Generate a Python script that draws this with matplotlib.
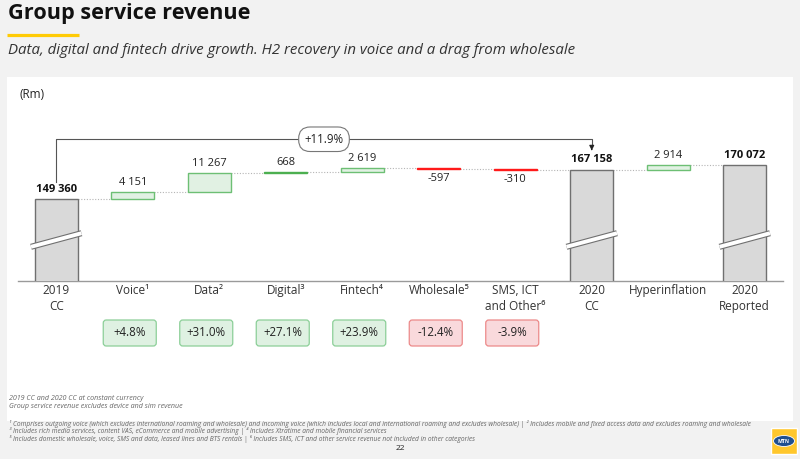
import matplotlib.pyplot as plt
from matplotlib.patches import FancyBboxPatch, Rectangle, Ellipse

plt.rcParams['font.family'] = ['Open Sans', 'DejaVu Sans']

# Data
categories = ['2019\nCC', 'Voice¹', 'Data²', 'Digital³', 'Fintech⁴', 'Wholesale⁵',
              'SMS, ICT\nand Other⁶', '2020\nCC', 'Hyperinflation', '2020\nReported']
kinds = ['total', 'delta', 'delta', 'delta', 'delta', 'delta', 'delta', 'total', 'delta', 'total']
values = [149360, 4151, 11267, 668, 2619, -597, -310, 167158, 2914, 170072]
growth_idx = [1, 2, 3, 4, 5, 6]
growth_labels = ['+4.8%', '+31.0%', '+27.1%', '+23.9%', '-12.4%', '-3.9%']
total_growth = '+11.9%'

notes_panel = ['2019 CC and 2020 CC at constant currency',
               'Group service revenue excludes device and sim revenue']
notes_foot = [
    '¹ Comprises outgoing voice (which excludes international roaming and wholesale) and incoming voice (which includes local and international roaming and excludes wholesale) | ² Includes mobile and fixed access data and excludes roaming and wholesale',
    '³ Includes rich media services, content VAS, eCommerce and mobile advertising | ⁴ Includes Xtratime and mobile financial services',
    '⁵ Includes domestic wholesale, voice, SMS and data, leased lines and BTS rentals | ⁶ Includes SMS, ICT and other service revenue not included in other categories',
]

GREEN_FILL, GREEN_EDGE = '#e1f1e3', '#6dbf74'
RED = '#ff1a1a'
GREY_FILL, GREY_EDGE = '#d9d9d9', '#707070'


def fmt(v):
    return f'{v:,}'.replace(',', ' ')


fig = plt.figure(figsize=(8, 4.59), dpi=100)
fig.patch.set_facecolor('#f2f2f2')

# Slide decoration layer in pixel coordinates
deco = fig.add_axes([0, 0, 1, 1], zorder=0)
deco.set_xlim(0, 800)
deco.set_ylim(459, 0)
deco.axis('off')
deco.add_patch(Rectangle((7, 77), 786, 344, fc='white', ec='none'))

deco.text(8, 14, 'Group service revenue', fontsize=15.6, weight='bold', va='center', color='#111')
deco.plot([7, 79], [35, 35], color='#ffcb05', lw=2.3, solid_capstyle='butt')
deco.text(8, 50, 'Data, digital and fintech drive growth. H2 recovery in voice and a drag from wholesale',
          fontsize=10.8, style='italic', va='center', color='#333')
deco.text(20, 94, '(Rm)', fontsize=8.5, va='center', color='#222')

for k, line in enumerate(notes_panel):
    deco.text(9, 399 + k * 8, line, fontsize=5.1, style='italic', va='center', color='#666')
for k, line in enumerate(notes_foot):
    deco.text(9, 424 + k * 7.3, line, fontsize=4.8, style='italic', va='center', color='#666')
deco.text(400, 448, '22', fontsize=6, ha='center', va='center', color='#222')

# logo
deco.add_patch(Rectangle((771, 428), 26, 26, fc='#ffc72c', ec='white', lw=1))
deco.add_patch(Ellipse((784, 441), 21, 11, fc='#1f4f8f', ec='white', lw=0.6))
deco.text(784, 441.5, 'MTN', fontsize=3.6, weight='bold', color='white', ha='center', va='center')

# Chart
ax = fig.add_axes([18 / 800, 1 - 281 / 459, 765 / 800, 161 / 459], zorder=2)
ax.set_facecolor('none')
ax.set_xlim(-0.5, len(values) - 0.5)
ax.set_ylim(100000, 197000)
for s in ['top', 'right', 'left']:
    ax.spines[s].set_visible(False)
ax.spines['bottom'].set_color('#9a9a9a')
ax.spines['bottom'].set_linewidth(1)
ax.set_xticks([])
ax.set_yticks([])

width = 0.56
running = 0
levels = []
for i, (kind, v) in enumerate(zip(kinds, values)):
    if kind == 'total':
        ax.bar(i, v, width, color=GREY_FILL, edgecolor=GREY_EDGE, lw=1, zorder=3)
        running = v
        ax.annotate(fmt(v), (i, v), xytext=(0, 3), textcoords='offset points',
                    ha='center', va='bottom', fontsize=8, weight='bold', color='#111')
        # axis break mark
        yb = 124700
        for lw, c in [(4.4, GREY_EDGE), (2.8, 'white')]:
            ax.plot([i - 0.33, i + 0.33], [yb - 4100, yb + 4100], color=c, lw=lw,
                    solid_capstyle='butt', zorder=4)
    else:
        if v >= 0:
            fc, ec = (GREEN_EDGE, '#4caf50') if v < 1000 else (GREEN_FILL, GREEN_EDGE)
        else:
            fc, ec = RED, RED
        ax.bar(i, v, width, bottom=running, color=fc, edgecolor=ec, lw=1, zorder=3)
        if v >= 0:
            ax.annotate(fmt(v), (i, running + v), xytext=(0, 3), textcoords='offset points',
                        ha='center', va='bottom', fontsize=8, color='#222')
        else:
            ax.annotate(fmt(v), (i, running + v), xytext=(0, -3), textcoords='offset points',
                        ha='center', va='top', fontsize=8, color='#222')
        running += v
    levels.append(running)

# dotted connectors
for i in range(len(values) - 1):
    ax.plot([i + width / 2, i + 1 - width / 2], [levels[i], levels[i]],
            color='#b5b5b5', lw=0.8, ls=(0, (1, 1.5)), zorder=2)

# category labels
for i, c in enumerate(categories):
    ax.text(i, -0.02, c, transform=ax.get_xaxis_transform(), ha='center', va='top',
            fontsize=8.5, color='#333', linespacing=1.3)

# CAGR bracket
first, last = 0, kinds.index('total', 1)
top = 185400
ax.plot([first, first, last, last], [values[first] + 10200, top, top, values[last] + 13500],
        color='#555', lw=0.8, zorder=2)
ax.annotate('', xy=(last, values[last] + 11500), xytext=(last, values[last] + 13800),
            arrowprops=dict(arrowstyle='-|>', color='#222', lw=0.8, mutation_scale=7))
ax.text((first + last) / 2, top, total_growth, ha='center', va='center', fontsize=8.3, color='#222',
        bbox=dict(boxstyle='round,pad=0.5,rounding_size=1.0', fc='white', ec='#777', lw=0.8), zorder=5)

# growth boxes
for i, lab in zip(growth_idx, growth_labels):
    xd = ax.transData.transform((i, 0))[0] - 3
    pos = not lab.startswith('-')
    fc, ec = ('#dff1e2', '#8ccf98') if pos else ('#f9d9dc', '#ec8a8a')
    deco.add_patch(FancyBboxPatch((xd - 26.5, 320), 53, 26, boxstyle='round,pad=0,rounding_size=3',
                                  fc=fc, ec=ec, lw=0.9))
    deco.text(xd, 333, lab, ha='center', va='center', fontsize=8.3, color='#222')

fig.savefig('out.png', dpi=100, facecolor=fig.get_facecolor())
